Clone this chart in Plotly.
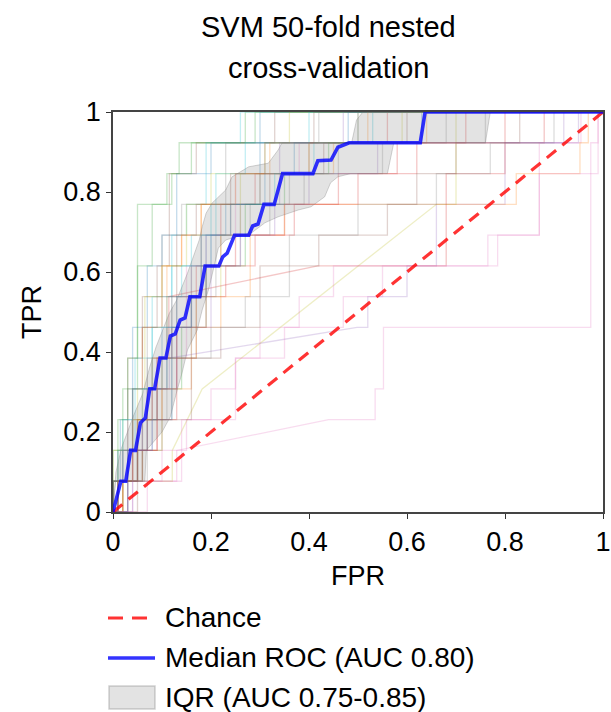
import plotly.graph_objects as go

# ---------------------------------------------------------------- data
N_POS = 13  # positives per held-out fold; TPR moves in steps of 1/13

# median ROC across folds
MEDIAN_FPR = [0.0, 0.016, 0.026, 0.036, 0.046, 0.056, 0.066, 0.075, 0.085, 0.096,
              0.108, 0.117, 0.127, 0.137, 0.147, 0.157, 0.177, 0.188, 0.216, 0.224,
              0.233, 0.248, 0.277, 0.285, 0.296, 0.308, 0.329, 0.346, 0.408, 0.418,
              0.445, 0.459, 0.482, 0.627, 0.637, 1.0]
MEDIAN_TPR = [0.0, 0.077, 0.077, 0.154, 0.154, 0.223, 0.235, 0.308, 0.308, 0.385,
              0.385, 0.440, 0.445, 0.480, 0.485, 0.538, 0.538, 0.615, 0.615, 0.638,
              0.647, 0.692, 0.692, 0.715, 0.720, 0.769, 0.769, 0.846, 0.846, 0.878,
              0.880, 0.912, 0.923, 0.923, 1.0, 1.0]

# interquartile band (25th / 75th percentile TPR)
IQR_UPPER_FPR = [0.0, 0.004, 0.006, 0.017, 0.041, 0.061, 0.075, 0.088, 0.102, 0.115,
                 0.130, 0.140, 0.152, 0.176, 0.182, 0.190, 0.202, 0.230, 0.243, 0.277,
                 0.317, 0.337, 0.345, 0.487, 0.497, 0.510, 1.0]
IQR_UPPER_TPR = [0.0, 0.077, 0.100, 0.159, 0.238, 0.297, 0.363, 0.413, 0.459, 0.497,
                 0.530, 0.560, 0.597, 0.680, 0.713, 0.747, 0.772, 0.805, 0.838, 0.863,
                 0.872, 0.905, 0.923, 0.923, 0.980, 1.0, 1.0]
IQR_LOWER_FPR = [0.0, 0.005, 0.065, 0.068, 0.100, 0.117, 0.131, 0.141, 0.152, 0.172,
                 0.182, 0.196, 0.205, 0.215, 0.230, 0.257, 0.283, 0.310, 0.337, 0.378,
                 0.404, 0.432, 0.444, 0.459, 0.485, 0.560, 0.573, 0.760, 0.770, 1.0]
IQR_LOWER_TPR = [0.0, 0.077, 0.077, 0.154, 0.200, 0.238, 0.305, 0.348, 0.405, 0.455,
                 0.505, 0.560, 0.610, 0.660, 0.680, 0.690, 0.698, 0.723, 0.738, 0.755,
                 0.763, 0.788, 0.823, 0.838, 0.846, 0.846, 0.923, 0.923, 1.0, 1.0]

# per-fold ROC curves: (fpr, true positives) at each jump; a third item 'd'
# marks a tied-score segment drawn as a straight diagonal
FOLD_JUMPS = [
    [(0.00, 2), (0.02, 4), (0.05, 7), (0.05, 10), (0.11, 11), (0.135, 12), (0.27, 13)],
    [(0.00, 1), (0.015, 3), (0.04, 6), (0.07, 8), (0.10, 9), (0.13, 11), (0.20, 12), (0.30, 13)],
    [(0.01, 2), (0.03, 5), (0.06, 7), (0.09, 8), (0.115, 11), (0.17, 12), (0.33, 13)],
    [(0.00, 1), (0.02, 2), (0.045, 5), (0.08, 7), (0.12, 9), (0.15, 10), (0.19, 12), (0.26, 13)],
    [(0.01, 1), (0.03, 4), (0.07, 6), (0.10, 9), (0.14, 10), (0.23, 12), (0.42, 13)],
    [(0.00, 2), (0.05, 4), (0.065, 7), (0.10, 8), (0.15, 10), (0.20, 11), (0.31, 12), (0.36, 13)],
    [(0.00, 1), (0.04, 3), (0.06, 6), (0.10, 8), (0.14, 9), (0.18, 10), (0.30, 11), (0.45, 12), (0.64, 13)],
    [(0.02, 1), (0.05, 3), (0.09, 5), (0.12, 7), (0.17, 8), (0.22, 10), (0.29, 11), (0.40, 12), (0.56, 13)],
    [(0.00, 1), (0.03, 2), (0.07, 4), (0.11, 6), (0.16, 8), (0.20, 9), (0.26, 10), (0.34, 12), (0.47, 13)],
    [(0.01, 1), (0.06, 3), (0.08, 5), (0.13, 7), (0.18, 9), (0.24, 10), (0.32, 11), (0.43, 12), (0.60, 13)],
    [(0.02, 2), (0.05, 3), (0.10, 5), (0.15, 8), (0.19, 9), (0.25, 11), (0.38, 12), (0.50, 13)],
    [(0.00, 1), (0.04, 4), (0.07, 5), (0.12, 6), (0.16, 8), (0.21, 9), (0.28, 10), (0.36, 11), (0.46, 12), (0.76, 13)],
    [(0.01, 1), (0.02, 3), (0.06, 4), (0.11, 7), (0.14, 8), (0.20, 10), (0.33, 11), (0.41, 12), (0.53, 13)],
    [(0.03, 2), (0.07, 4), (0.10, 6), (0.13, 7), (0.18, 9), (0.23, 10), (0.30, 12), (0.63, 13)],
    [(0.00, 1), (0.05, 3), (0.09, 4), (0.14, 6), (0.19, 8), (0.27, 10), (0.35, 11), (0.44, 12), (0.50, 13)],
    [(0.02, 1), (0.06, 2), (0.10, 5), (0.17, 7), (0.22, 9), (0.26, 11), (0.40, 12), (0.59, 13)],
    [(0.03, 1), (0.06, 2), (0.09, 4), (0.13, 6), (0.19, 8), (0.25, 9), (0.35, 10), (0.50, 11), (0.62, 12), (0.88, 13)],
    [(0.07, 1), (0.13, 2), (0.44, 3, 'd'), (0.535, 4), (0.552, 6), (0.975, 12), (0.99, 13)],
    [(0.00, 1), (0.03, 2), (0.06, 3), (0.09, 4), (0.115, 5), (0.498, 6, 'd'), (0.52, 7), (0.60, 8), (0.66, 10), (0.80, 12), (0.95, 13)],
    [(0.02, 1), (0.121, 2), (0.182, 4, 'd'), (0.66, 10, 'd'), (0.70, 13)],
    [(0.01, 1), (0.04, 2), (0.07, 4), (0.09, 5), (0.114, 7), (0.418, 8, 'd'), (0.68, 11), (0.80, 13)],
    [(0.03, 1), (0.10, 2), (0.15, 3), (0.20, 4), (0.25, 5), (0.30, 6), (0.38, 7), (0.45, 8), (0.785, 9), (0.87, 12), (0.955, 13)],
    [(0.01, 1), (0.05, 3), (0.10, 4), (0.16, 6), (0.22, 7), (0.28, 9), (0.35, 10), (0.823, 11), (0.953, 12), (0.97, 13)],
    [(0.02, 1), (0.07, 3), (0.12, 5), (0.20, 6), (0.27, 7), (0.36, 9), (0.50, 10), (0.66, 11), (0.77, 12), (0.90, 13)],
    [(0.05, 2), (0.10, 3), (0.16, 5), (0.22, 6), (0.30, 8), (0.42, 9), (0.56, 10), (0.62, 11), (0.70, 12), (0.83, 13)],
    [(0.04, 1), (0.14, 3), (0.25, 5), (0.35, 6), (0.47, 7), (0.55, 8), (0.765, 9), (0.87, 11), (0.99, 13)],
    [(0.00, 1), (0.01, 3), (0.03, 5), (0.05, 8), (0.08, 10), (0.12, 11), (0.16, 12), (0.29, 13)],
    [(0.02, 1), (0.04, 3), (0.08, 5), (0.11, 8), (0.14, 9), (0.18, 10), (0.25, 11), (0.32, 12), (0.52, 13)],
    [(0.01, 2), (0.04, 4), (0.08, 6), (0.12, 8), (0.16, 9), (0.21, 11), (0.27, 12), (0.40, 13)],
    [(0.00, 1), (0.06, 3), (0.11, 5), (0.16, 7), (0.21, 8), (0.26, 9), (0.32, 10), (0.39, 11), (0.55, 12), (0.68, 13)],
    [(0.03, 1), (0.05, 2), (0.08, 3), (0.12, 6), (0.16, 7), (0.19, 9), (0.24, 10), (0.31, 11), (0.37, 12), (0.48, 13)],
    [(0.01, 1), (0.05, 2), (0.09, 3), (0.13, 5), (0.17, 7), (0.23, 8), (0.29, 9), (0.37, 10), (0.46, 11), (0.58, 12), (0.72, 13)],
    [(0.04, 2), (0.08, 4), (0.13, 6), (0.20, 8), (0.26, 9), (0.33, 10), (0.40, 11), (0.54, 12), (0.92, 13)],
    [(0.00, 1), (0.02, 2), (0.04, 4), (0.06, 6), (0.09, 7), (0.13, 9), (0.17, 10), (0.24, 11), (0.31, 12), (0.41, 13)],
]
# tab10 index used for each fold line
FOLD_COLOR_IDX = [2, 0, 5, 9, 7, 8, 1, 3, 4, 5, 6, 7, 9, 0, 2, 8, 3, 6, 4, 8, 3, 6, 1, 7, 5, 6,
                  2, 1, 9, 7, 0, 3, 4, 5]

TAB10 = ["31,119,180", "255,127,14", "44,160,44", "214,39,40", "148,103,189",
         "140,86,75", "227,119,194", "127,127,127", "188,189,34", "23,190,207"]

TITLE_LINES = ["SVM 50-fold nested", "cross-validation"]
LEGEND_LABELS = ["Chance", "Median ROC (AUC 0.80)", "IQR (AUC 0.75-0.85)"]
TICKS = [0, 0.2, 0.4, 0.6, 0.8, 1]
TICK_TEXT = ["0", "0.2", "0.4", "0.6", "0.8", "1"]

FONT = "Liberation Sans, Arial, Helvetica, sans-serif"


def fold_path(jumps):
    xs, ys, prev = [0.0], [0.0], 0
    for j in jumps:
        x, k = j[0], j[1]
        if len(j) == 3:
            xs.append(x)
            ys.append(k / N_POS)
        else:
            xs += [x, x]
            ys += [prev / N_POS, k / N_POS]
        prev = k
    xs.append(1.0)
    ys.append(prev / N_POS)
    return xs, ys


fig = go.Figure()

# individual folds
for jumps, ci in zip(FOLD_JUMPS, FOLD_COLOR_IDX):
    xs, ys = fold_path(jumps)
    fig.add_trace(go.Scatter(x=xs, y=ys, mode="lines",
                             line=dict(color=f"rgba({TAB10[ci]},0.26)", width=1.3),
                             hoverinfo="skip", showlegend=False))

# IQR band
fig.add_trace(go.Scatter(
    x=IQR_UPPER_FPR + IQR_LOWER_FPR[::-1],
    y=IQR_UPPER_TPR + IQR_LOWER_TPR[::-1],
    mode="lines", fill="toself", fillcolor="rgba(128,128,128,0.22)",
    line=dict(color="rgba(128,128,128,0.35)", width=1),
    hoverinfo="skip", showlegend=False))

# chance diagonal
fig.add_trace(go.Scatter(x=[0, 1], y=[0, 1], mode="lines",
                         line=dict(color="rgba(255,0,0,0.8)", width=3.2, dash="12px,8px"),
                         showlegend=False))

# median ROC
fig.add_trace(go.Scatter(x=MEDIAN_FPR, y=MEDIAN_TPR, mode="lines",
                         line=dict(color="rgba(0,0,255,0.8)", width=3.6),
                         showlegend=False))

# ---------------------------------------------------------------- layout helpers
L, R, T, B = 113, 8, 112, 200
PW, PH = 611 - L - R, 712 - T - B


def px(xp):
    return (xp - L) / PW


def py(yp):
    return (712 - B - yp) / PH


shapes = [
    dict(type="line", xref="paper", yref="paper", x0=px(108), x1=px(155), y0=py(618), y1=py(618),
         line=dict(color="rgba(255,0,0,0.8)", width=3.2, dash="15px,9px")),
    dict(type="line", xref="paper", yref="paper", x0=px(108), x1=px(155), y0=py(658), y1=py(658),
         line=dict(color="rgba(0,0,255,0.8)", width=3.6)),
    dict(type="rect", xref="paper", yref="paper", x0=px(109), x1=px(155), y0=py(686), y1=py(709),
         fillcolor="rgba(128,128,128,0.22)", line=dict(color="rgba(128,128,128,0.35)", width=1.5)),
]

annotations = []
# two-line heading
for line, yc in zip(TITLE_LINES, [27, 68]):
    annotations.append(dict(text=line, xref="paper", yref="paper", x=px(328), y=py(yc),
                            xanchor="center", yanchor="middle", showarrow=False,
                            font=dict(size=29, color="black", family=FONT)))
# legend entries
for label, yc in zip(LEGEND_LABELS, [617, 657, 697]):
    annotations.append(dict(text=label, xref="paper", yref="paper", x=px(163), y=py(yc),
                            xanchor="left", yanchor="middle", showarrow=False,
                            font=dict(size=28, color="black", family=FONT)))

axis_common = dict(range=[0, 1], tickvals=TICKS, ticktext=TICK_TEXT, ticks="outside",
                   ticklen=5, tickwidth=1.3, tickcolor="#333", showline=True,
                   linecolor="#444", linewidth=1.5, mirror=True, showgrid=False,
                   zeroline=False, ticklabeloverflow="allow", automargin=False,
                   tickfont=dict(size=27, color="black", family=FONT))

fig.update_layout(
    width=611, height=712,
    margin=dict(l=L, r=R, t=T, b=B),
    paper_bgcolor="white", plot_bgcolor="white",
    font=dict(family=FONT, color="black"),
    xaxis=dict(title=dict(text="FPR", font=dict(size=27, family=FONT), standoff=10), **axis_common),
    yaxis=dict(title=dict(text="TPR", font=dict(size=27, family=FONT), standoff=14), **axis_common),
    shapes=shapes, annotations=annotations, showlegend=False,
)

fig.write_html("out.html")
